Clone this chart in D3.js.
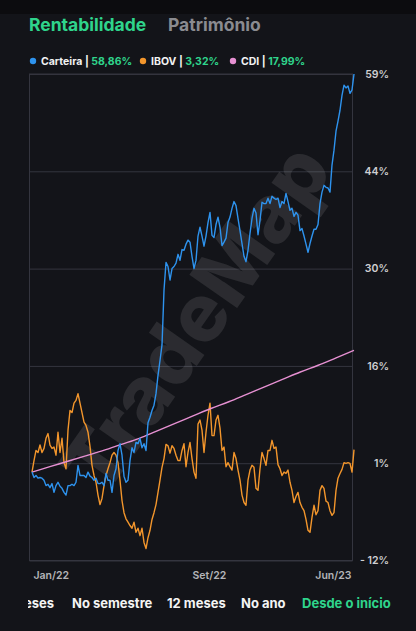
<!DOCTYPE html>
<html>
<head>
<meta charset="utf-8">
<script src="https://cdn.jsdelivr.net/npm/d3@7"></script>
<style>
  html, body { margin: 0; padding: 0; background: #131419; }
  svg { display: block; font-family: "Inter", "Open Sans", sans-serif; }
</style>
</head>
<body>
<svg id="svg" width="416" height="631"></svg>
<script>
// series, in % since start; daily points are spread evenly over the 18 months
const carteira = [
  0.0, -0.8, -0.5, -0.9, -0.8, -0.9, -1.2, -2.0, -1.8, -2.3, -1.7, -3.0, -2.0, -1.5, -2.1, -2.4,
  -3.0, -3.4, -2.0, -2.0, -1.8, -2.0, -1.5, 1.0, -0.5, -0.5, -0.5, -0.8, 0.0, -0.6, -0.8, -1.2,
  -0.9, -1.7, -1.7, -1.5, -2.0, -0.2, -1.2, -1.2, -3.0, -0.5, 0.5, 3.2, 4.2, 2.5, -0.6, -1.5,
  -1.2, 1.7, 3.6, 2.9, 4.4, 4.2, 5.0, 3.6, 4.2, 3.2, 7.3, 8.1, 9.1, 9.9, 11.6, 14.3,
  16.5, 18.8, 26.9, 31.0, 30.4, 28.4, 30.1, 30.4, 30.9, 32.2, 31.3, 32.9, 32.8, 33.7, 34.3, 34.0,
  31.9, 30.1, 31.3, 34.9, 36.2, 34.9, 33.4, 34.9, 36.9, 38.4, 35.0, 34.7, 36.6, 37.7, 36.2, 33.5,
  34.0, 34.6, 36.9, 37.7, 39.0, 40.0, 39.4, 37.5, 35.7, 33.8, 31.9, 31.1, 32.8, 35.3, 37.5, 39.0,
  38.3, 35.1, 37.2, 39.9, 39.7, 39.7, 40.5, 39.7, 40.8, 40.5, 40.3, 40.5, 39.1, 40.0, 39.7, 41.2,
  40.0, 38.7, 39.0, 37.8, 38.4, 38.0, 35.7, 36.0, 34.9, 33.7, 32.5, 33.8, 34.9, 35.9, 35.9, 36.6,
  39.7, 41.4, 42.4, 42.1, 42.0, 41.4, 45.4, 47.6, 50.4, 51.9, 53.5, 55.7, 57.2, 56.8, 57.1, 56.0,
  56.5, 58.86
];

const ibov = [
  0.0, 1.7, 3.2, 2.9, 4.0, 2.9, 3.5, 5.0, 5.7, 4.0, 3.5, 3.7, 2.5, 5.9, 2.9, 5.0,
  1.4, 0.5, 6.2, 9.1, 8.8, 10.2, 10.6, 11.6, 10.2, 8.8, 7.4, 6.9, 5.9, 3.8, 1.0, -0.5,
  -1.5, -3.4, -4.8, -3.9, -2.0, -0.5, 0.5, 1.4, 2.5, 2.9, 2.5, 1.4, -1.2, -4.2, -6.0, -6.9,
  -7.4, -7.9, -8.3, -7.4, -8.9, -8.3, -9.4, -8.3, -10.4, -11.3, -9.7, -8.6, -7.0, -6.0, -4.8, -3.0,
  -1.2, 0.7, 2.0, 4.1, 3.9, 2.8, 3.9, 3.5, 2.5, 1.7, 1.7, 3.2, 4.2, 0.8, 2.9, 4.4,
  2.0, 0.0, -0.9, 7.1, 7.7, 6.2, 2.9, 5.9, 8.4, 10.2, 5.4, 5.4, 7.7, 8.4, 6.5, 3.2,
  3.7, 0.8, 1.4, 0.8, 0.3, 2.9, 2.0, 0.3, -1.2, -3.4, -4.5, -4.9, -1.2, 0.3, 1.0, 0.7,
  -2.4, -2.7, 0.5, 2.9, 2.0, 1.0, 3.2, 3.2, 4.7, 3.5, 3.7, 1.1, 0.5, -0.5, 0.0, -0.2,
  0.3, -1.5, -2.7, -4.5, -3.6, -3.0, -4.5, -5.2, -5.7, -7.0, -8.6, -8.9, -6.7, -4.9, -6.3, -5.7,
  -2.7, -2.0, -2.4, -4.3, -4.5, -5.7, -6.4, -6.0, -2.7, -0.9, -0.2, 0.4, 1.4, 1.3, 1.4, 1.3,
  0.0, 3.32
];

// CDI, monthly
const cdi = [0, 0.8, 1.6, 2.4, 3.2, 4.1, 5.0, 6.1, 7.2, 8.3, 9.4, 10.4, 11.5, 12.6, 13.7, 14.8, 15.8, 16.9, 17.99];

const seriesNames = ["Carteira", "IBOV", "CDI"];
const seriesTotals = ["58,86%", "3,32%", "17,99%"];
const seriesColors = ["#2e93ee", "#f3962c", "#e690d2"];

const monthLabels = ["Jan/22", "Set/22", "Jun/23"];
const monthTicks = [0, 9, 18];
const yTickLabels = ["- 12%", "1%", "16%", "30%", "44%", "59%"];
const tabs = ["meses", "No semestre", "12 meses", "No ano", "Desde o início"];

const green = "#2fd48c";

const svg = d3.select("#svg");

// frame of the plot
const frame = {left: 29.5, right: 352.5, top: 74, bottom: 560.5};

const x = d3.scaleLinear().domain([0, 18]).range([32, 354]);
const yMin = -13.07, yMax = 58.86;
const y = d3.scaleLinear().domain([yMin, yMax]).range([frame.bottom, frame.top]);
const yTicks = d3.range(6).map(i => yMin + i * (yMax - yMin) / 5);

// top strip
svg.append("rect")
  .attr("width", 416).attr("height", 14)
  .attr("fill", "#0c0c0f");

// header tabs
svg.append("text")
  .attr("x", 29).attr("y", 31)
  .attr("fill", green)
  .style("font-size", "17.5px").style("font-weight", 700)
  .text("Rentabilidade");
svg.append("text")
  .attr("x", 168).attr("y", 31)
  .attr("fill", "#8a8b90")
  .style("font-size", "17.5px").style("font-weight", 700)
  .text("Patrimônio");

// legend
const legendX = [33, 143, 233];
seriesNames.forEach((name, i) => {
  const g = svg.append("g").attr("transform", "translate(" + legendX[i] + ",61)");
  g.append("circle").attr("r", 3.2).attr("fill", seriesColors[i]);
  const t = g.append("text")
    .attr("x", 8).attr("y", 3.8)
    .style("font-size", "10.5px").style("font-weight", 700);
  t.append("tspan").attr("fill", "#f2f2f2").text(name + " | ");
  t.append("tspan").attr("fill", green).text(seriesTotals[i]);
});

// gridlines
svg.append("g")
  .attr("transform", "translate(" + frame.left + ",0)")
  .call(d3.axisRight(y).tickValues(yTicks).tickSize(frame.right - frame.left).tickFormat(""))
  .call(g => g.select(".domain").remove())
  .call(g => g.selectAll("line").attr("stroke", "#34353f").attr("stroke-width", 1));

// frame
svg.append("rect")
  .attr("x", frame.left).attr("y", frame.top)
  .attr("width", frame.right - frame.left).attr("height", frame.bottom - frame.top)
  .attr("fill", "none").attr("stroke", "#34353f");

// watermark
svg.append("text")
  .attr("transform", "translate(196,318) rotate(-55)")
  .attr("text-anchor", "middle")
  .attr("dy", "0.35em")
  .attr("fill", "#ffffff").attr("fill-opacity", 0.1)
  .style("font-size", "80px").style("font-weight", 800)
  .text("TradeMap");

// y axis labels
svg.append("g")
  .attr("transform", "translate(389,0)")
  .call(d3.axisLeft(y).tickValues(yTicks).tickSize(0).tickPadding(0).tickFormat((d, i) => yTickLabels[i]))
  .call(g => g.select(".domain").remove())
  .call(g => g.selectAll("text")
    .attr("fill", "#cfcfd2")
    .style("font-family", "Inter, sans-serif")
    .style("font-size", "10.5px").style("font-weight", 600));

// x axis labels
svg.append("g")
  .attr("transform", "translate(0,570)")
  .call(d3.axisBottom(x).tickValues(monthTicks).tickSize(0).tickPadding(0).tickFormat((d, i) => monthLabels[i]))
  .call(g => g.select(".domain").remove())
  .call(g => g.selectAll("text")
    .attr("fill", "#b4b4b8")
    .attr("dy", "0.9em")
    .style("font-family", "Inter, sans-serif")
    .style("font-size", "10.5px").style("font-weight", 600)
    .attr("text-anchor", (d, i) => i === 2 ? "end" : "start")
    .attr("dx", (d, i) => i === 2 ? -3 : (i === 0 ? 1 : -1)));

// lines
const line = d3.line().x(d => x(d[0])).y(d => y(d[1]));
const daily = arr => arr.map((v, i) => [i * 18 / (arr.length - 1), v]);
const monthly = arr => arr.map((v, i) => [i, v]);

[[daily(ibov), seriesColors[1], d3.curveLinear],
 [monthly(cdi), seriesColors[2], d3.curveMonotoneX],
 [daily(carteira), seriesColors[0], d3.curveLinear]]
  .forEach(([pts, color, curve]) => {
    svg.append("path")
      .datum(pts)
      .attr("d", line.curve(curve))
      .attr("fill", "none")
      .attr("stroke", color)
      .attr("stroke-width", 1.4)
      .attr("stroke-linejoin", "round");
  });

// period tabs (row scrolled, first tab cut at the left)
svg.append("clipPath").attr("id", "tabclip")
  .append("rect").attr("x", 28).attr("y", 585).attr("width", 388).attr("height", 40);

const tabRow = svg.append("g").attr("clip-path", "url(#tabclip)");
const tabX = [54, 72, 167, 241, 302];
tabs.forEach((t, i) => {
  tabRow.append("text")
    .attr("x", tabX[i]).attr("y", 608)
    .attr("text-anchor", i === 0 ? "end" : "start")
    .attr("fill", i === tabs.length - 1 ? green : "#f4f4f4")
    .style("font-size", "13px").style("font-weight", 700)
    .text(t);
});
</script>
</body>
</html>
